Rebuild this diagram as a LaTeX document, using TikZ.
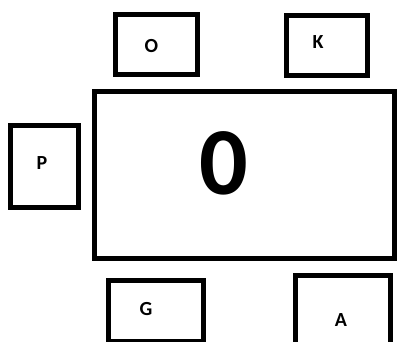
\documentclass[tikz,border=0pt]{standalone}
\usepackage{fontspec}
\setmainfont{Carlito}
\usepackage{tikz}
\usetikzlibrary{positioning}
\tikzset{
  % thick black frame, no text inside
  seatbox/.style={draw=black, line width=5pt, fill=white,
                  inner sep=0pt, minimum width=#1},
  % letter written inside a frame
  seatname/.style={font=\bfseries\fontsize{20}{20}\selectfont,
                   inner sep=0pt},
}
\begin{document}
\begin{tikzpicture}[x=1pt, y=-1pt]
  \useasboundingbox (0,0) rectangle (397,342);
  \begin{scope}
  \clip (0,0) rectangle (397,342);
  % the table
  \node[seatbox=300pt, minimum height=167pt] (tab) at (244.5,175) {};
  % the seats round it
  \node[seatbox=82pt, minimum height=60pt] (seato) at (156.5,44.5) {};
  \node[seatbox=81pt, minimum height=60pt] (seatk) at (327,45.5) {};
  \node[seatbox=68pt, minimum height=82pt] (seatp) at (44.5,166.5) {};
  \node[seatbox=95pt, minimum height=61pt] (seatg) at (156,311.5) {};
  \node[seatbox=95pt, minimum height=77pt] (seata) at (343,314) {};
  \end{scope}
  % names
  \node[seatname] (nameo) at (151.5,46.5) {O};
  \node[seatname] (namek) at (318,42.5) {K};
  \node[seatname] (namep) at (42,163) {P};
  \node[seatname] (nameg) at (146,309.5) {G};
  \node[seatname] (namea) at (341,320.5) {A};
  \node[font=\bfseries\fontsize{96}{96}\selectfont, inner sep=0pt]
    (count) at (224,163.5) {0};
\end{tikzpicture}
\end{document}
